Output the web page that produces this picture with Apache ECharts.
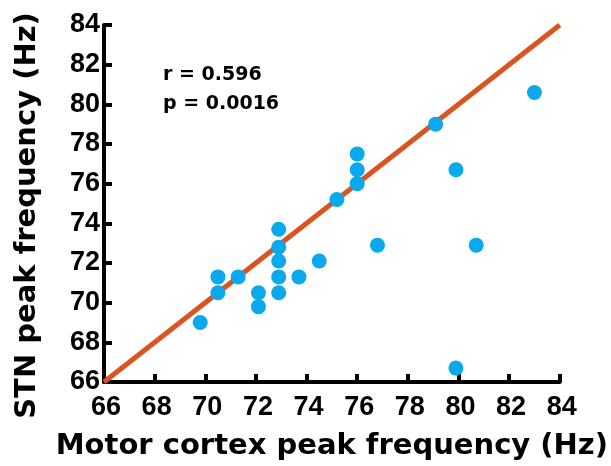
<!DOCTYPE html>
<html>
<head>
<meta charset="utf-8">
<script src="https://cdn.jsdelivr.net/npm/echarts@6/dist/echarts.min.js"></script>
<style>
html,body{margin:0;padding:0;background:#fff;}
#chart{width:611px;height:466px;}
</style>
</head>
<body>
<div id="chart"></div>
<script>
// Data
const motorCortex = [69.8, 70.5, 70.5, 71.3, 72.1, 72.1, 72.9, 72.9, 72.9, 72.9, 72.9, 73.7, 74.5, 75.2, 76.0, 76.0, 76.0, 76.8, 79.1, 79.9, 80.7, 79.9, 83.0];
const stn         = [69.0, 71.3, 70.5, 71.3, 70.5, 69.8, 73.7, 72.8, 72.1, 71.3, 70.5, 71.3, 72.1, 75.2, 77.5, 76.7, 76.0, 72.9, 79.0, 76.7, 72.9, 66.7, 80.6];
const fitX = [66, 84];
const fitY = [66, 84];
const axisMin = 66, axisMax = 84, axisStep = 2;
const statsText = ['r = 0.596', 'p = 0.0016'];
const xTitle = 'Motor cortex peak frequency (Hz)';
const yTitle = 'STN peak frequency (Hz)';

const points = motorCortex.map((x, i) => [x, stn[i]]);
const fitLine = fitX.map((x, i) => [x, fitY[i]]);

const tickFont = {fontFamily: 'Liberation Sans', fontWeight: 'bold', fontSize: 27, color: '#000'};
const titleFont = {fontFamily: 'DejaVu Sans', fontWeight: 'bold', fontSize: 29, color: '#000'};

function axis(extra) {
  return Object.assign({
    type: 'value', min: axisMin, max: axisMax, interval: axisStep,
    axisLine: {show: true, onZero: false, lineStyle: {color: '#000', width: 4}},
    axisTick: {show: true, inside: true, length: 8, lineStyle: {color: '#000', width: 4}},
    splitLine: {show: false},
    nameLocation: 'middle'
  }, extra);
}

const chart = echarts.init(document.getElementById('chart'), null, {renderer: 'canvas'});
chart.setOption({
  animation: false,
  backgroundColor: '#fff',
  grid: {left: 104, right: 51, top: 25, bottom: 81},
  xAxis: axis({
    name: xTitle, nameGap: 50, nameTextStyle: titleFont,
    axisLabel: Object.assign({margin: 12, padding: [0, 0, 0, 4]}, tickFont)
  }),
  yAxis: axis({
    name: yTitle, nameGap: 62, nameTextStyle: Object.assign({padding: [0, 24, 0, 0]}, titleFont),
    axisLabel: Object.assign({margin: 4, padding: [6, 0, 0, 0]}, tickFont)
  }),
  graphic: [
    {type: 'text', x: 163, y: 75, style: {text: statsText[0], font: 'bold 19px "DejaVu Sans"', fill: '#000', verticalAlign: 'middle'}},
    {type: 'text', x: 163, y: 104, style: {text: statsText[1], font: 'bold 19px "DejaVu Sans"', fill: '#000', verticalAlign: 'middle'}}
  ],
  series: [
    {type: 'line', data: fitLine, symbol: 'none', z: 3, lineStyle: {color: '#DA5420', width: 5}},
    {type: 'scatter', data: points, symbol: 'circle', symbolSize: 15, z: 4, itemStyle: {color: '#0AA9EC', opacity: 1}}
  ]
});
</script>
</body>
</html>
